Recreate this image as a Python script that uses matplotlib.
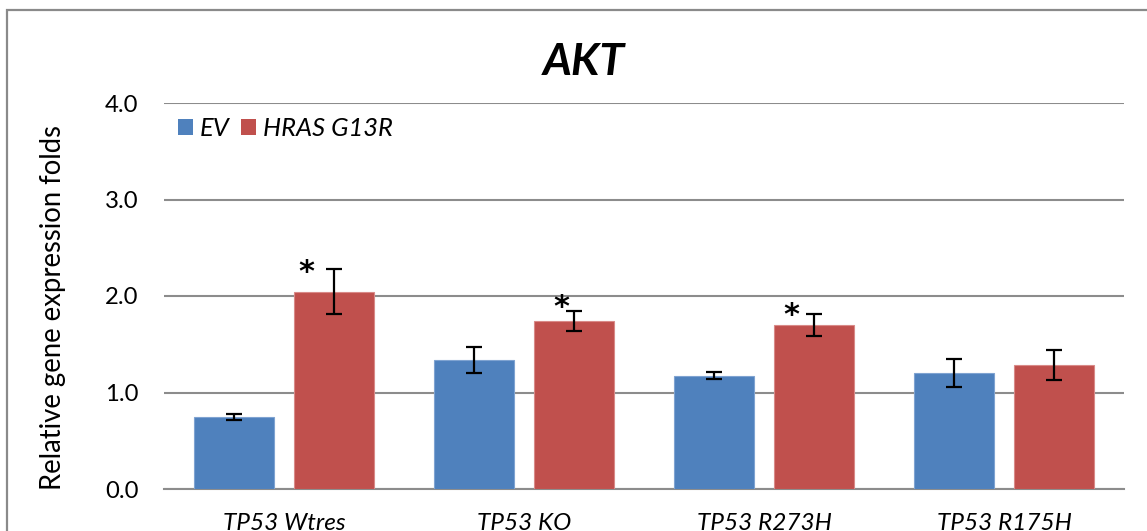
import matplotlib
matplotlib.use("Agg")
import matplotlib.pyplot as plt
from matplotlib.patches import Patch, Rectangle
import numpy as np

categories = ['TP53 Wtres', 'TP53 KO', 'TP53 R273H', 'TP53 R175H']
ev_values = [0.75, 1.34, 1.175, 1.20]
ev_errors = [0.03, 0.135, 0.036, 0.147]
hras_values = [2.045, 1.74, 1.695, 1.285]
hras_errors = [0.23, 0.10, 0.114, 0.157]
significant = [True, True, True, False]
series_names = ['EV', 'HRAS G13R']
y_ticks = [0.0, 1.0, 2.0, 3.0, 4.0]

# style: asterisk offsets (points) relative to top of HRAS error bar
star_offsets = [(-20, -2), (-9, 3), (-16, -1), (0, 0)]

FONT = ['Lato', 'DejaVu Sans']
plt.rcParams['font.family'] = FONT

W, H, DPI = 1147, 531, 100
fig = plt.figure(figsize=(W / DPI, H / DPI), dpi=DPI)

# outer chart border (cropped on right/bottom)
fig.patches.append(Rectangle((7 / W, -0.1), 1.2, 1 - 10 / H + 0.1,
                             transform=fig.transFigure, fill=False,
                             edgecolor='#8a8a8a', linewidth=1.6))

ax = fig.add_axes([164 / W, 1 - 489 / H, (1124 - 164) / W, (489 - 103) / H])

x = np.arange(len(categories))
bw = 0.333
off = 0.208
blue = '#4F81BD'
red = '#C0504D'

ax.bar(x - off, ev_values, bw, color=blue, edgecolor='#7fa3d1', linewidth=0.8, zorder=3)
ax.bar(x + off, hras_values, bw, color=red, edgecolor='#d98a88', linewidth=0.8, zorder=3)
ax.errorbar(x - off, ev_values, yerr=ev_errors, fmt='none', ecolor='black',
            elinewidth=1.6, capsize=6, capthick=1.6, zorder=4)
ax.errorbar(x + off, hras_values, yerr=hras_errors, fmt='none', ecolor='black',
            elinewidth=1.6, capsize=6, capthick=1.6, zorder=4)

for i, sig in enumerate(significant):
    if sig:
        ax.annotate('*', xy=(x[i] + off, hras_values[i] + hras_errors[i]),
                    xytext=star_offsets[i], textcoords='offset points',
                    ha='center', va='center', fontsize=22, fontweight='bold',
                    family=['DejaVu Sans'], zorder=5)

ax.set_xlim(-0.5, len(categories) - 0.5)
ax.set_ylim(0, 4.0)
ax.set_yticks(y_ticks)
ax.set_yticklabels([f'{v:.1f}' for v in y_ticks], fontsize=17.2)
ax.set_xticks(x)
ax.set_xticklabels(categories, fontsize=17.6, style='italic')
ax.tick_params(axis='both', length=0)
ax.tick_params(axis='y', pad=18.5)
ax.tick_params(axis='x', pad=17.5)

ax.grid(axis='y', color='#8c8c8c', linewidth=1.5, zorder=0)
ax.set_axisbelow(True)
for s in ['top', 'right', 'left']:
    ax.spines[s].set_visible(False)
ax.spines['bottom'].set_color('#8c8c8c')
ax.spines['bottom'].set_linewidth(1.5)

ax.set_ylabel('Relative gene expression folds', fontsize=19.8)
ax.yaxis.set_label_coords(-0.102, 0.47)

fig.text(584 / W, 1 - 62 / H, 'AKT', fontsize=32, fontweight='bold',
         style='italic', ha='center', va='center')

handles = [Patch(facecolor=blue), Patch(facecolor=red)]
leg = ax.legend(handles, series_names, loc='center left',
                bbox_to_anchor=(-0.004, 0.935), ncol=2, frameon=False,
                prop={'style': 'italic', 'size': 18.4},
                handlelength=0.59, handleheight=0.59, handletextpad=0.27,
                columnspacing=0.43, borderpad=0.2)

fig.savefig('out.png', dpi=DPI)
